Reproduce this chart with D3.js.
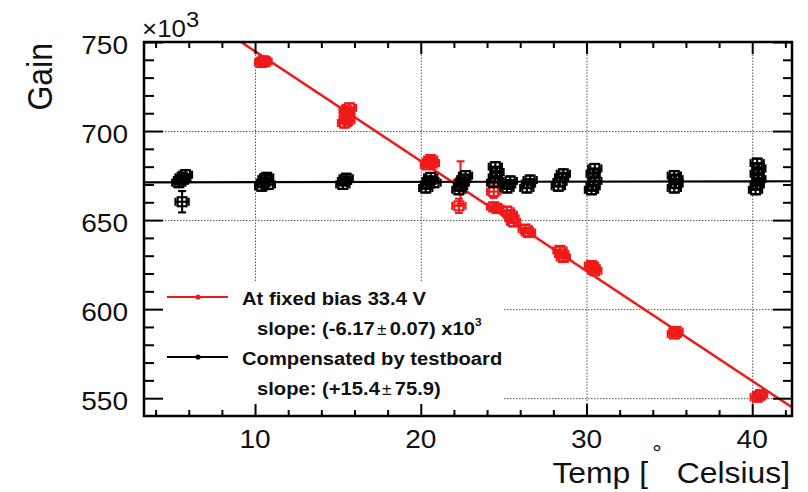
<!DOCTYPE html>
<html>
<head>
<meta charset="utf-8">
<script src="https://cdn.jsdelivr.net/npm/d3@7"></script>
<style>
  html, body { margin: 0; padding: 0; background: #fff; }
  svg { display: block; font-family: "Liberation Sans", Arial, Helvetica, sans-serif; }
</style>
</head>
<body>
<svg id="chart" width="808" height="492"></svg>
<script>
// Gain (x10^3) versus temperature, at fixed bias and compensated by the testboard

// Fixed bias 33.4 V
const biasTemp = [10.4, 10.5, 10.6,
  15.4, 15.5, 15.6, 15.5, 15.7, 15.6,
  20.4, 20.5, 20.6, 20.7,
  22.4, 22.3,
  24.4, 24.4, 24.6,
  25.2, 25.4, 25.5, 25.6,
  26.3, 26.5,
  28.4, 28.5, 28.6,
  30.3, 30.4, 30.5,
  35.3, 35.4,
  40.3, 40.5];
const biasGain = [738.5, 739.5, 739.0,
  704.5, 707, 709.5, 711.5, 713, 706,
  681, 682.5, 684, 682,
  671, 658,
  666, 657.5, 656.5,
  655, 653, 651, 649,
  645, 643,
  633, 631, 629,
  624.5, 623, 621.5,
  586, 587.5,
  550.5, 552];
const biasErr = [1.5, 1.5, 1.5,
  2.5, 2.5, 2.5, 2.5, 2.5, 2.5,
  1.5, 1.5, 1.5, 1.5,
  12, 4,
  3.5, 2, 2,
  2.5, 2.5, 2.5, 2.5,
  2, 2,
  2, 2, 2,
  1.5, 1.5, 1.5,
  1.5, 1.5,
  1.5, 1.5];

// Compensated by testboard
const compTemp = [5.4, 5.5, 5.6, 5.7, 5.8, 5.6,
  10.4, 10.5, 10.6, 10.7, 10.8,
  15.3, 15.4, 15.5,
  20.3, 20.4, 20.5, 20.6, 20.8,
  22.3, 22.4, 22.5, 22.6, 22.7,
  24.4, 24.5, 24.6, 24.5,
  25.2, 25.3, 25.4,
  26.4, 26.5, 26.6,
  28.3, 28.4, 28.5, 28.6,
  30.3, 30.4, 30.5, 30.4, 30.5,
  35.3, 35.4, 35.4, 35.3,
  40.2, 40.3, 40.4, 40.3, 40.4, 40.3];
const compGain = [671, 672.5, 674, 673, 675.5, 660.3,
  669, 671, 673, 674, 670,
  670, 672, 673.5,
  668, 670, 672, 674, 671,
  667, 669, 671, 673, 675,
  671, 674, 677, 680,
  668, 670, 672,
  668, 670.5, 672.5,
  669, 671.5, 674, 676,
  667, 669, 672, 676, 679,
  668, 670.5, 673, 675,
  667, 670, 673, 676, 679, 682];
const compErr = [2.5, 2.5, 2.5, 2.5, 2.5, 6,
  2.5, 2.5, 2.5, 2.5, 2.5,
  2.5, 2.5, 2.5,
  2.5, 2.5, 2.5, 2.5, 2.5,
  2.5, 2.5, 2.5, 2.5, 2.5,
  2.5, 2.5, 2.5, 2.5,
  2.5, 2.5, 2.5,
  2.5, 2.5, 2.5,
  2.5, 2.5, 2.5, 2.5,
  2.5, 2.5, 2.5, 2.5, 2.5,
  2.5, 2.5, 2.5, 2.5,
  2.5, 2.5, 2.5, 2.5, 2.5, 2.5];
const tempErr = 0.4;

// Linear fits: gain = intercept + slope * T
const biasFit = { intercept: 806.5, slope: -6.17 };
const compFit = { intercept: 671.15, slope: 0.0154 };

// Legend entries
const legendNames = ["At fixed bias 33.4 V", "Compensated by testboard"];
const legendSlopeVal = ["-6.17", "+15.4"];
const legendSlopeErr = ["0.07", "75.9"];
const legendSlopeExp = ["3", null];

// Axes
const xDomain = [3.3, 42.4];
const yDomain = [540, 750];
const xMajor = [10, 20, 30, 40];
const xMinor = [4, 6, 8, 12, 14, 16, 18, 22, 24, 26, 28, 32, 34, 36, 38, 42];
const yMajor = [550, 600, 650, 700, 750];
const yMinor = [560, 570, 580, 590, 610, 620, 630, 640, 660, 670, 680, 690, 710, 720, 730, 740];
const xTitle = ["Temp [", "°", "Celsius]"];
const yTitle = "Gain";
const yExpBase = "×10";
const yExpPow = "3";

const RED = "#ee1a1a";
const BLACK = "#000";
const SX = 1.08; // glyph width factor

const M = { left: 144, top: 42 };
const W = 648, H = 374;

const svg = d3.select("#chart");
const g = svg.append("g").attr("transform", `translate(${M.left},${M.top})`);

const x = d3.scaleLinear().domain(xDomain).range([0, W]);
const y = d3.scaleLinear().domain(yDomain).range([H, 0]);

function stripDomain(sel) { sel.select(".domain").remove(); }

// Grid
const grid = g.append("g").attr("class", "grid");
grid.append("g").attr("transform", `translate(0,${H})`)
  .call(d3.axisBottom(x).tickValues(xMajor).tickSize(-H).tickFormat(""))
  .call(stripDomain);
grid.append("g")
  .call(d3.axisLeft(y).tickValues(yMajor.filter(v => v < 750)).tickSize(-W).tickFormat(""))
  .call(stripDomain);
grid.selectAll("line").attr("stroke", "#555").attr("stroke-width", 1).attr("stroke-dasharray", "1.5,1.5");

// Legend background box
const legBox = { x0: 0, x1: 359, y0: 240 };
g.append("rect").attr("x", legBox.x0).attr("y", legBox.y0)
  .attr("width", legBox.x1 - legBox.x0).attr("height", H - legBox.y0).attr("fill", "#fff");

// Fit lines
const clip = svg.append("defs").append("clipPath").attr("id", "plotclip");
clip.append("rect").attr("width", W).attr("height", H);
const fits = g.append("g").attr("clip-path", "url(#plotclip)");
const fitLine = (fit) => d3.line()
  .x(d => x(d)).y(d => y(fit.intercept + fit.slope * d))(xDomain);
fits.append("path").attr("d", fitLine(biasFit)).attr("stroke", RED).attr("stroke-width", 2.5).attr("fill", "none");
fits.append("path").attr("d", fitLine(compFit)).attr("stroke", BLACK).attr("stroke-width", 2.2).attr("fill", "none");

// Data points: open squares with error bars
function drawPoints(temps, gains, errs, color) {
  const layer = g.append("g").attr("stroke", color).attr("stroke-width", 2.1).attr("fill", "none");
  temps.forEach((t, i) => {
    const cx = x(t), cy = y(gains[i]);
    const yl = y(gains[i] - errs[i]), yh = y(gains[i] + errs[i]);
    const xl = x(t - tempErr), xh = x(t + tempErr);
    const p = layer.append("g");
    p.append("line").attr("x1", cx).attr("x2", cx).attr("y1", yl).attr("y2", yh);
    p.append("line").attr("x1", cx - 4).attr("x2", cx + 4).attr("y1", yl).attr("y2", yl);
    p.append("line").attr("x1", cx - 4).attr("x2", cx + 4).attr("y1", yh).attr("y2", yh);
    p.append("line").attr("x1", xl).attr("x2", xh).attr("y1", cy).attr("y2", cy);
    p.append("line").attr("x1", xl).attr("x2", xl).attr("y1", cy - 4).attr("y2", cy + 4);
    p.append("line").attr("x1", xh).attr("x2", xh).attr("y1", cy - 4).attr("y2", cy + 4);
    p.append("rect").attr("x", cx - 4.5).attr("y", cy - 4.5).attr("width", 9).attr("height", 9);
  });
}
drawPoints(biasTemp, biasGain, biasErr, RED);
drawPoints(compTemp, compGain, compErr, BLACK);

// Frame
g.append("rect").attr("width", W).attr("height", H)
  .attr("fill", "none").attr("stroke", "#000").attr("stroke-width", 2.5);

// Ticks on all four sides, pointing inward
const ticks = g.append("g").attr("class", "ticks");
function tickAxis(axis, vals, size, transform) {
  ticks.append("g").attr("transform", transform || null)
    .call(axis.tickValues(vals).tickSize(size).tickFormat(""))
    .call(stripDomain);
}
tickAxis(d3.axisBottom(x), xMajor, -12, `translate(0,${H})`);
tickAxis(d3.axisBottom(x), xMinor, -6, `translate(0,${H})`);
tickAxis(d3.axisTop(x), xMajor, -12);
tickAxis(d3.axisTop(x), xMinor, -6);
tickAxis(d3.axisLeft(y), yMajor, -19);
tickAxis(d3.axisLeft(y), yMinor, -10);
tickAxis(d3.axisRight(y), yMajor, -19, `translate(${W},0)`);
tickAxis(d3.axisRight(y), yMinor, -9, `translate(${W},0)`);
ticks.selectAll("line").attr("stroke", "#000").attr("stroke-width", 2);

// Text helper with widened glyphs
function txt(parent, px, py, str, anchor, size, weight) {
  return parent.append("text")
    .attr("transform", `translate(${px},${py}) scale(${SX},1)`)
    .attr("text-anchor", anchor)
    .attr("font-size", size)
    .attr("font-weight", weight || "normal")
    .attr("fill", "#111")
    .text(str);
}

// Tick labels
xMajor.forEach(v => txt(svg, M.left + x(v), M.top + H + 31.5, String(v), "middle", 26));
yMajor.forEach(v => txt(svg, 128, M.top + y(v) + 12, String(v), "end", 26));

// Exponent above the y axis
const ex = svg.append("text")
  .attr("transform", `translate(142,37) scale(${SX},1)`)
  .attr("font-size", 24).attr("fill", "#111");
ex.append("tspan").text(yExpBase);
ex.append("tspan").attr("dy", -10).attr("font-size", 22).text(yExpPow);

// Axis titles
svg.append("text")
  .attr("transform", `translate(52,43) scale(1.1,1) rotate(-90)`)
  .attr("text-anchor", "end").attr("font-size", 32).attr("fill", "#111")
  .text(yTitle);
txt(svg, 648, 483, xTitle[0], "end", 29.5);
txt(svg, 657, 461, xTitle[1], "middle", 22);
txt(svg, 790, 483, xTitle[2], "end", 29.5);

// Legend
const leg = svg.append("g");
const legRowY = [297, 357];
const legColors = [RED, BLACK];
legendNames.forEach((name, i) => {
  const ly = legRowY[i];
  leg.append("line").attr("x1", 167).attr("x2", 228).attr("y1", ly).attr("y2", ly)
    .attr("stroke", legColors[i]).attr("stroke-width", 2);
  leg.append("circle").attr("cx", 198).attr("cy", ly).attr("r", 2.6).attr("fill", legColors[i]);
  txt(leg, 242, ly + 8, name, "start", 18.7, "bold");
  const s = leg.append("text")
    .attr("transform", `translate(257,${ly + 38}) scale(${SX},1)`)
    .attr("font-size", 18.7).attr("font-weight", "bold").attr("fill", "#111");
  s.append("tspan").text(`slope: (${legendSlopeVal[i]}`);
  s.append("tspan").attr("font-weight", "normal").attr("font-size", 16).attr("dx", 2).text("±");
  s.append("tspan").attr("dx", 3).text(`${legendSlopeErr[i]})`);
  if (legendSlopeExp[i]) {
    s.append("tspan").text(" x10");
    s.append("tspan").attr("font-size", 11).attr("dy", -9).text(legendSlopeExp[i]);
  }
});
</script>
</body>
</html>
